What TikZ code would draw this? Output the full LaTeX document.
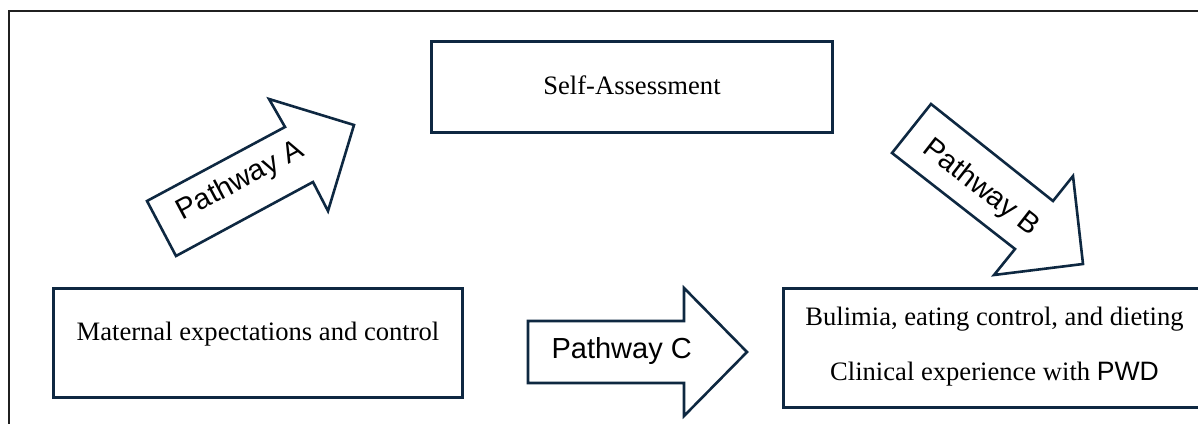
\documentclass[tikz,border=0pt]{standalone}
\usepackage{fontspec}
\setmainfont{Liberation Serif}
\newfontfamily\arialfont{Liberation Sans}
\definecolor{navy}{HTML}{0E2841}
\definecolor{framegray}{HTML}{202020}
\begin{document}
\begin{tikzpicture}[x=1pt,y=1pt,
  boxstyle/.style={draw=navy,line width=3pt,fill=white,inner sep=0pt,rectangle},
  blockarrow/.style={draw=navy,line width=2.6pt,fill=white,line join=miter},
  seriftext/.style={inner sep=0pt,anchor=base,font=\fontsize{26.6}{30}\selectfont},
  pathtext/.style={inner sep=0pt,anchor=base,font=\arialfont\fontsize{29}{32}\selectfont}]
\useasboundingbox (0,0) rectangle (1198,423);
% outer frame
\draw[framegray,line width=1.5pt] (9,-10) -- (9,412) -- (1215,412);
% boxes
\node[boxstyle,minimum width=401pt,minimum height=91pt] (self) at (631.5,335.5) {};
\node[seriftext] (selft) at (632,328) {Self-Assessment};
\node[boxstyle,minimum width=409pt,minimum height=108pt] (mat) at (257.5,80) {};
\node[seriftext] (matt) at (258,83) {Maternal expectations and control};
\node[boxstyle,minimum width=423pt,minimum height=118pt] (bul) at (994.5,75) {};
\node[seriftext] (bult1) at (994.5,98) {Bulimia, eating control, and dieting};
\node[seriftext] (bult2) at (994.5,43) {Clinical experience with {\arialfont PWD}};
% Pathway A
\draw[blockarrow] (147,222) -- (285,296) -- (269,324) -- (354,298) -- (328,212) -- (313,241) -- (176,167) -- cycle;
\node[pathtext,rotate=28] (pa) at (244,235) {Pathway A};
% Pathway B
\draw[blockarrow] (931,319) -- (1053,222) -- (1073,247) -- (1083,159) -- (994,148) -- (1015,174) -- (892,270) -- cycle;
\node[pathtext,rotate=-38] (pb) at (976,229) {Pathway B};
% Pathway C
\draw[blockarrow] (528,102) -- (684,102) -- (684,135) -- (747,71) -- (684,7) -- (684,40) -- (528,40) -- cycle;
\node[pathtext] (pc) at (621.7,65) {Pathway C};
\end{tikzpicture}
\end{document}
